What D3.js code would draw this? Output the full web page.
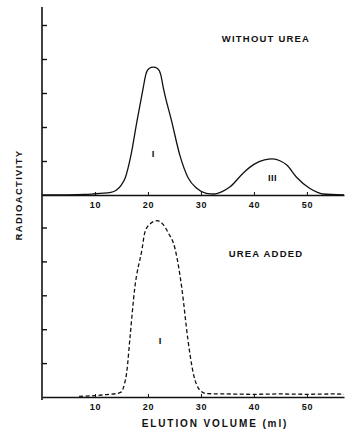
<!DOCTYPE html>
<html>
<head>
<meta charset="utf-8">
<script src="https://cdn.jsdelivr.net/npm/d3@7"></script>
<style>
  body { margin: 0; background: #fff; }
  svg text { font-family: "Liberation Sans", Arial, sans-serif; font-weight: bold; fill: #111; }
  .axis path, .axis line { stroke: #111; }
</style>
</head>
<body>
<div id="chart"></div>
<script>
// elution profile without urea (peaks I and III)
var volTop = [0, 8, 11, 13, 14, 15, 15.7, 16.8, 17.9, 19.1, 19.6, 20.2, 21, 21.8, 22.4, 22.9, 24.5, 26, 27.6, 29.2, 31, 32.5, 34, 35.5, 38, 40, 42, 43.5, 45, 46.2, 48, 50.5, 52, 53, 57];
var radTop = [0, 0.02, 0.05, 0.08, 0.14, 0.3, 0.5, 1.18, 2.15, 3.15, 3.55, 3.72, 3.76, 3.72, 3.55, 3.15, 2.15, 1.18, 0.5, 0.2, 0.05, 0.03, 0.1, 0.24, 0.65, 0.9, 1.03, 1.06, 1.0, 0.88, 0.53, 0.2, 0.08, 0.03, 0];

// elution profile after urea was added (single peak I)
var volBottom = [7, 10, 12, 14, 15, 15.5, 16, 16.6, 17.5, 18.9, 19.4, 20.5, 21.7, 22.8, 23.8, 25.1, 26.4, 27.5, 28.5, 29.8, 31, 35, 40, 45, 50, 55, 57];
var radBottom = [0.02, 0.04, 0.07, 0.1, 0.15, 0.35, 0.74, 1.74, 3.2, 4.38, 4.85, 5.12, 5.2, 5.1, 4.85, 4.38, 3.2, 1.74, 0.74, 0.2, 0.1, 0.09, 0.08, 0.09, 0.08, 0.09, 0.08];

var xTicks = [10, 20, 30, 40, 50];
var yTicks = [1, 2, 3, 4, 5];

var width = 347, height = 443;

var svg = d3.select('#chart').append('svg')
    .attr('width', width)
    .attr('height', height);

var x = d3.scaleLinear().domain([0, 57]).range([42, 344]);
var yTop = d3.scaleLinear().domain([0, 5]).range([195, 25]);
var yBottom = d3.scaleLinear().domain([0, 5]).range([397, 227.5]);

// shared vertical axis line
svg.append('line')
    .attr('x1', x(0)).attr('x2', x(0))
    .attr('y1', 7).attr('y2', yBottom(0) + 3)
    .attr('stroke', '#111')
    .attr('stroke-width', 1.6);

function drawPanel(y, vols, vals, dashed, title, titleY, peaks) {
    var xAxis = d3.axisBottom(x)
        .tickValues(xTicks)
        .tickSizeInner(-3)
        .tickSizeOuter(0)
        .tickPadding(7);

    var gx = svg.append('g')
        .attr('class', 'axis')
        .attr('transform', 'translate(0,' + y(0) + ')')
        .call(xAxis);
    gx.select('.domain').attr('stroke-width', 1.6);
    gx.selectAll('text').attr('font-size', 9).attr('letter-spacing', 0.6);

    var yAxis = d3.axisRight(y)
        .tickValues(yTicks)
        .tickSizeInner(5)
        .tickSizeOuter(0)
        .tickFormat('');
    var gy = svg.append('g')
        .attr('class', 'axis')
        .attr('transform', 'translate(' + x(0) + ',0)')
        .call(yAxis);
    gy.select('.domain').remove();
    gy.selectAll('line').attr('stroke-width', 1.4);

    var line = d3.line()
        .x(function(d, i) { return x(vols[i]); })
        .y(function(d) { return y(d); })
        .curve(d3.curveMonotoneX);

    svg.append('path')
        .datum(vals)
        .attr('fill', 'none')
        .attr('stroke', '#111')
        .attr('stroke-width', 1.3)
        .attr('stroke-dasharray', dashed ? '4,2.5' : null)
        .attr('d', line);

    svg.append('text')
        .attr('x', 266)
        .attr('y', titleY)
        .attr('text-anchor', 'middle')
        .attr('font-size', 9.5)
        .attr('letter-spacing', 1.2)
        .text(title);

    peaks.forEach(function(p) {
        svg.append('text')
            .attr('x', x(p.vol))
            .attr('y', y(p.level))
            .attr('text-anchor', 'middle')
            .attr('font-size', 9.5)
            .attr('letter-spacing', 0.3)
            .text(p.label);
    });
}

drawPanel(yTop, volTop, radTop, false, 'WITHOUT UREA', 42,
    [{label: 'I', vol: 21, level: 1.12}, {label: 'III', vol: 43.5, level: 0.4}]);
drawPanel(yBottom, volBottom, radBottom, true, 'UREA ADDED', 257,
    [{label: 'I', vol: 22.3, level: 1.55}]);

// axis titles
svg.append('text')
    .attr('transform', 'translate(22,195) rotate(-90)')
    .attr('text-anchor', 'middle')
    .attr('font-size', 9.5)
    .attr('letter-spacing', 1.3)
    .text('RADIOACTIVITY');

svg.append('text')
    .attr('x', 215)
    .attr('y', 427)
    .attr('text-anchor', 'middle')
    .attr('font-size', 10)
    .attr('letter-spacing', 1.9)
    .text('ELUTION VOLUME (ml)');
</script>
</body>
</html>
